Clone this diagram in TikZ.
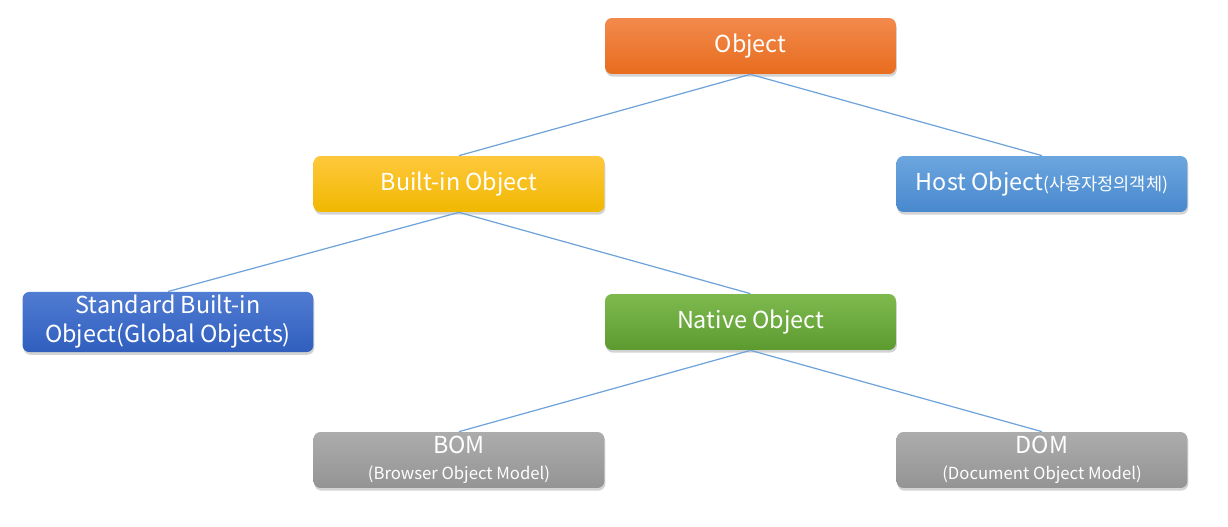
\documentclass[tikz,border=0pt]{standalone}
\usepackage{fontspec}
\setmainfont{Noto Sans CJK KR}
\usetikzlibrary{shadows}

\definecolor{linkblue}{HTML}{6FA3DA}

\tikzset{
    box/.style={rounded corners=4pt, minimum width=5.82cm, minimum height=1.12cm,
        text=white, align=center, inner sep=2pt, font=\fontsize{13.3}{16.5}\selectfont,
        drop shadow={shadow xshift=0.5pt, shadow yshift=-1.5pt, opacity=0.35}},
    orangebox/.style={box, top color={rgb,255:red,242;green,138;blue,76}, bottom color={rgb,255:red,232;green,108;blue,30}},
    yellowbox/.style={box, top color={rgb,255:red,255;green,200;blue,60}, bottom color={rgb,255:red,240;green,184;blue,0}},
    bluebox/.style={box, top color={rgb,255:red,108;green,166;blue,222}, bottom color={rgb,255:red,72;green,136;blue,206}},
    darkbluebox/.style={box, top color={rgb,255:red,80;green,124;blue,210}, bottom color={rgb,255:red,48;green,94;blue,190}},
    greenbox/.style={box, top color={rgb,255:red,126;green,186;blue,78}, bottom color={rgb,255:red,92;green,154;blue,48}},
    graybox/.style={box, top color={rgb,255:red,172;green,172;blue,172}, bottom color={rgb,255:red,148;green,148;blue,148}},
    link/.style={draw=linkblue, line width=0.7pt}
}

\begin{document}
\begin{tikzpicture}[x=0.02cm, y=-0.02cm]
    \useasboundingbox (0,0) rectangle (1228,527);

    % Nodes {obj, builtin, host, standard, native, bom, dom}
    \node [orangebox]   (obj)      at (750.5,46)  {Object};
    \node [yellowbox]   (builtin)  at (459,184)   {Built-in Object};
    \node [bluebox]     (host)     at (1042,184)  {Host Object{\fontsize{10}{12}\selectfont(사용자정의객체)}};
    \node [darkbluebox] (standard) at (168,322)   {Standard Built-in\\Object(Global Objects)};
    \node [greenbox]    (native)   at (750.5,322) {Native Object};
    \node [graybox]     (bom)      at (459,460)   {BOM\\[-2pt]{\fontsize{9.5}{11}\selectfont(Browser Object Model)}};
    \node [graybox]     (dom)      at (1042,460)  {DOM\\[-2pt]{\fontsize{9.5}{11}\selectfont(Document Object Model)}};

    % Paths
    \path [link] (obj.south)     -- (builtin.north);
    \path [link] (obj.south)     -- (host.north);
    \path [link] (builtin.south) -- (standard.north);
    \path [link] (builtin.south) -- (native.north);
    \path [link] (native.south)  -- (bom.north);
    \path [link] (native.south)  -- (dom.north);

\end{tikzpicture}
\end{document}
